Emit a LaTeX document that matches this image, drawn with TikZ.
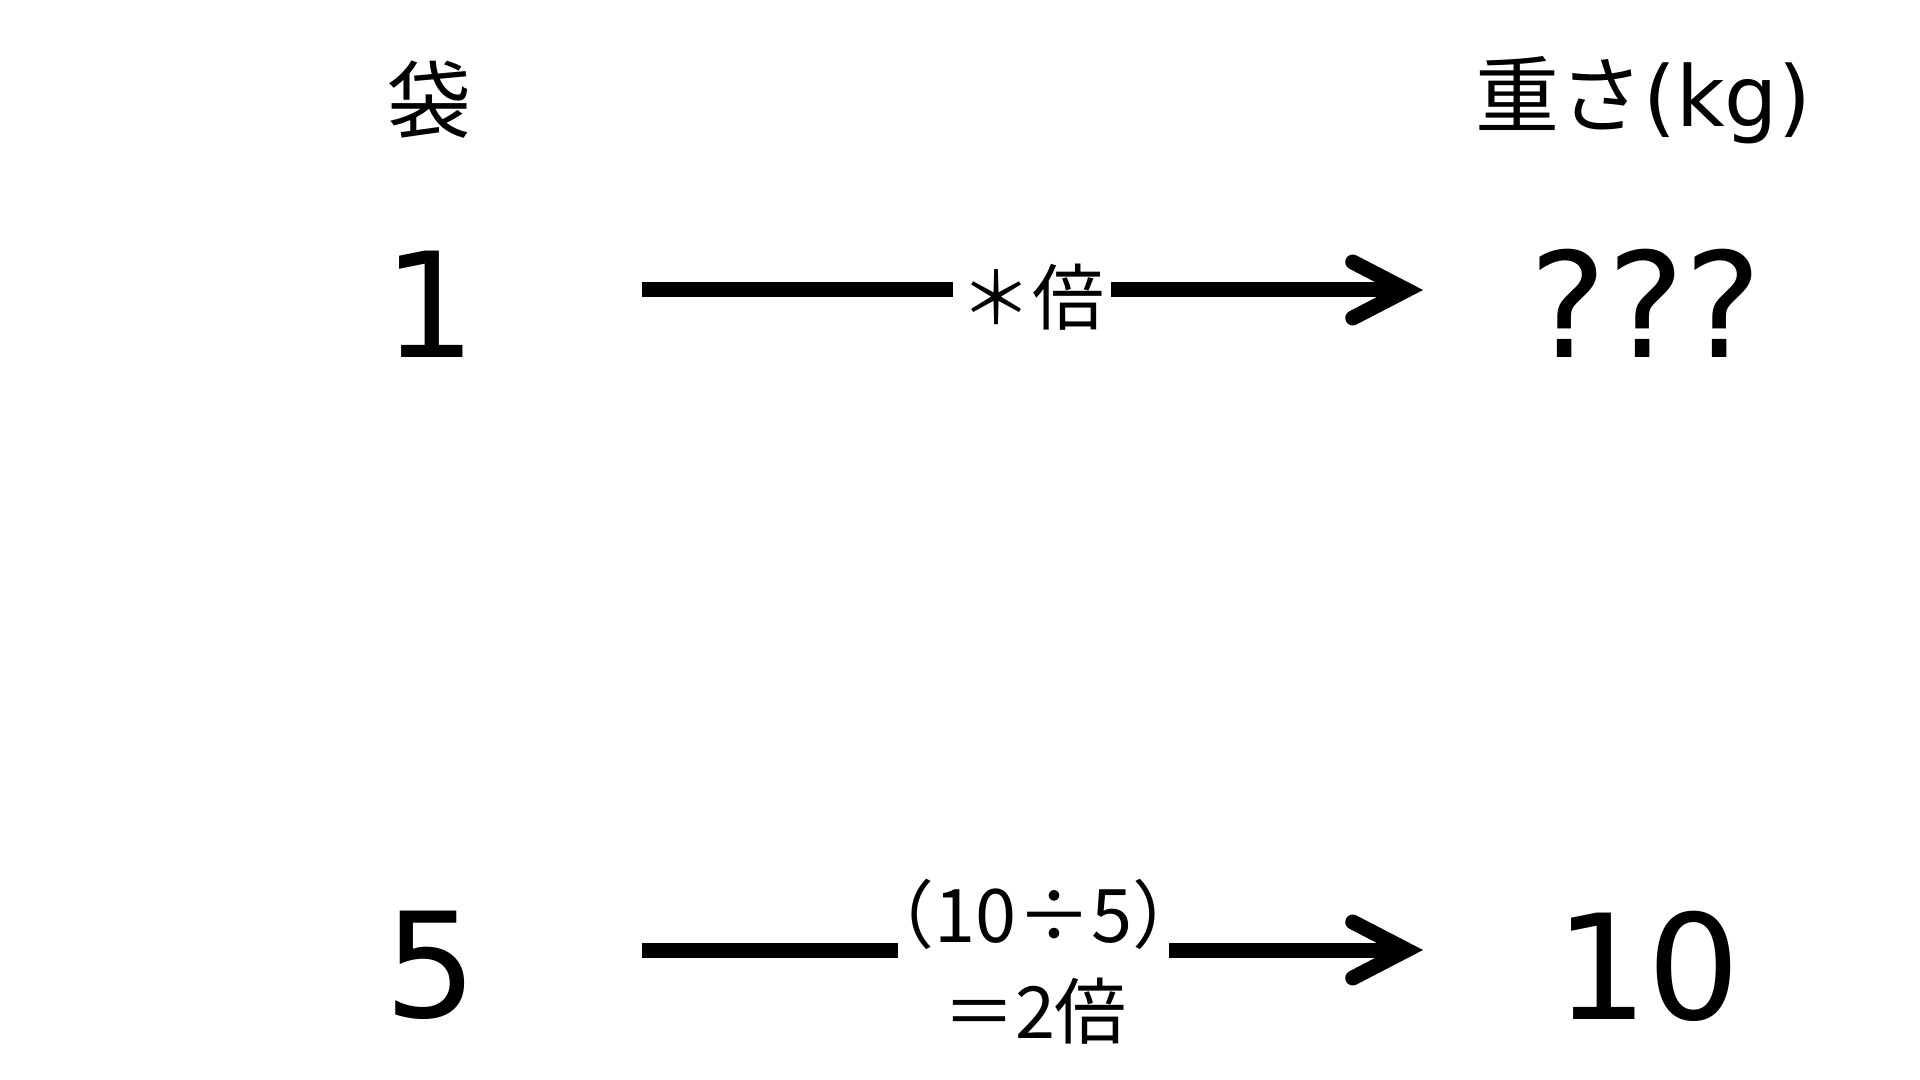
\documentclass[tikz,border=0pt]{standalone}
\usepackage{fontspec}
\setmainfont{DejaVu Sans}
\newfontfamily\jp{Noto Sans CJK JP}
\usetikzlibrary{arrows.meta}
\begin{document}
\begin{tikzpicture}[x=0.5pt,y=-0.5pt,
  big/.style={font=\fontsize{73}{80}\selectfont, inner sep=0pt},
  head/.style={font=\fontsize{42}{48}\selectfont, inner sep=0pt},
  lab/.style={font=\jp\fontsize{36}{40}\selectfont, inner sep=0pt},
  conn/.style={line width=7.5pt},
  arr/.style={line width=7.5pt, -{Straight Barb[length=27pt,width=28pt,line cap=round]}}]
\useasboundingbox (0,0) rectangle (1920,1080);
\fill[white] (0,0) rectangle (1920,1080);
% headers
\node[head] (h1) at (429,100) {\jp 袋};
\node[head] (h2) at (1643,100) {{\jp 重さ}(kg)};
% row 1
\node[big] (one) at (430,304) {1};
\node[big] (qqq) at (1646,303) {???};
\node[lab, minimum width=79pt] (lab1) at (1032,297) {＊倍};
\coordinate (s1) at (642,290);
\coordinate (e1) at (1423,290);
\draw[conn] (s1) -- (s1 -| lab1.west);
\draw[arr] (s1 -| lab1.east) -- (e1);
% row 2
\node[big] (five) at (431,965) {5};
\node[big] (ten) at (1648,966) {10};
\node[lab, font=\jp\fontsize{37}{40}\selectfont] (lab2) at (1033.5,914) {（10÷5）};
\node[lab] (lab3) at (1035,1011) {＝2倍};
\coordinate (s2) at (642,950);
\coordinate (g2l) at (898,950);
\coordinate (g2r) at (1169,950);
\coordinate (e2) at (1423,950);
\draw[conn] (s2) -- (g2l);
\draw[arr] (g2r) -- (e2);
\end{tikzpicture}
\end{document}
